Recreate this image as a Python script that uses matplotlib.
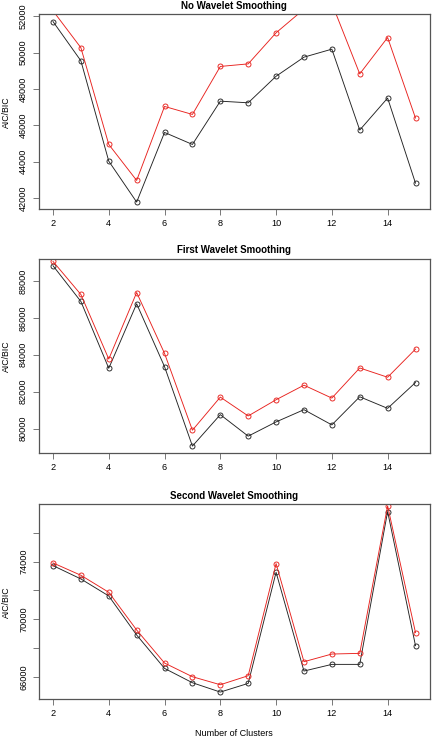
import matplotlib.pyplot as plt
import numpy as np

plt.rcParams['font.family'] = ['Liberation Sans', 'DejaVu Sans']

clusters = list(range(2, 16))

# No wavelet smoothing
none_black = [51710, 49550, 44030, 41780, 45610, 44950, 47330, 47240, 48700, 49750, 50190, 45740, 47500, 42820]
none_red = [52300, 50270, 44950, 42970, 47040, 46600, 49240, 49380, 51090, 52390, 52710, 48830, 50830, 46400]

# first wavelet smoothing
first_black = [88825, 86888, 83265, 86762, 83354, 79049, 80753, 79587, 80359, 81022, 80197, 81722, 81094, 82493]
first_red = [89058, 87265, 83767, 87372, 84072, 79910, 81704, 80682, 81561, 82350, 81650, 83283, 82780, 84305]

# second wavelet smoothing
second_black = [73717, 72790, 71608, 68897, 66579, 65583, 64934, 65537, 73254, 66394, 66857, 66857, 77472, 68155]
second_red = [73903, 73045, 71863, 69244, 66950, 66000, 65444, 66070, 73856, 67043, 67576, 67622, 77866, 69060]

titles = ['No Wavelet Smoothing', 'First Wavelet Smoothing', 'Second Wavelet Smoothing']
yticks = [
    ([42000, 44000, 46000, 48000, 50000, 52000], ['42000', '44000', '46000', '48000', '50000', '52000']),
    ([80000, 82000, 84000, 86000, 88000], ['80000', '82000', '84000', '86000', '88000']),
    ([66000, 68000, 70000, 72000, 74000, 76000], ['66000', '', '70000', '', '74000', '']),
]
series = [(none_black, none_red), (first_black, first_red), (second_black, second_red)]

W, H = 433, 739
boxes = [(14.3, 209.3), (258.5, 453.3), (504.3, 699.3)]
left, right = 38.5, 430

fig = plt.figure(figsize=(W / 100, H / 100), dpi=100)
edge = '#555555'

for i, (top, bottom) in enumerate(boxes):
    ax = fig.add_axes([left / W, (H - bottom) / H, (right - left) / W, (bottom - top) / H])
    blk, red = series[i]
    ax.plot(clusters, blk, color='#222222', lw=0.65, marker='o', ms=3.6, mfc='none', mew=0.65)
    ax.plot(clusters, red, color='#e8211d', lw=0.65, marker='o', ms=3.6, mfc='none', mew=0.65)
    # R style ylim: 4% around the first series
    lo, hi = min(blk), max(blk)
    pad = 0.04 * (hi - lo)
    ax.set_ylim(lo - pad, hi + pad)
    ax.set_xlim(2 - 0.04 * 13, 15 + 0.04 * 13)
    ax.set_xticks(range(2, 16, 2))
    ax.set_yticks(yticks[i][0])
    ax.set_yticklabels(yticks[i][1], rotation=90, va='center')
    ax.tick_params(labelsize=6.6, length=4, width=0.7, color='#777777', pad=3)
    ax.tick_params(axis='y', pad=3.5)
    for s in ax.spines.values():
        s.set_color(edge)
        s.set_linewidth(0.9)
    ax.set_title(titles[i], fontsize=7, fontweight='bold', pad=4)
    ax.set_ylabel('AIC/BIC', fontsize=6.3, va='center')
    ax.yaxis.set_label_coords(-32 / (right - left), 0.5)
    if i == 2:
        ax.set_xlabel('Number of Clusters', fontsize=6.5, va='center')
        ax.xaxis.set_label_coords(0.5, -(734 - bottom) / (bottom - top))

fig.savefig('out.png', dpi=100)
